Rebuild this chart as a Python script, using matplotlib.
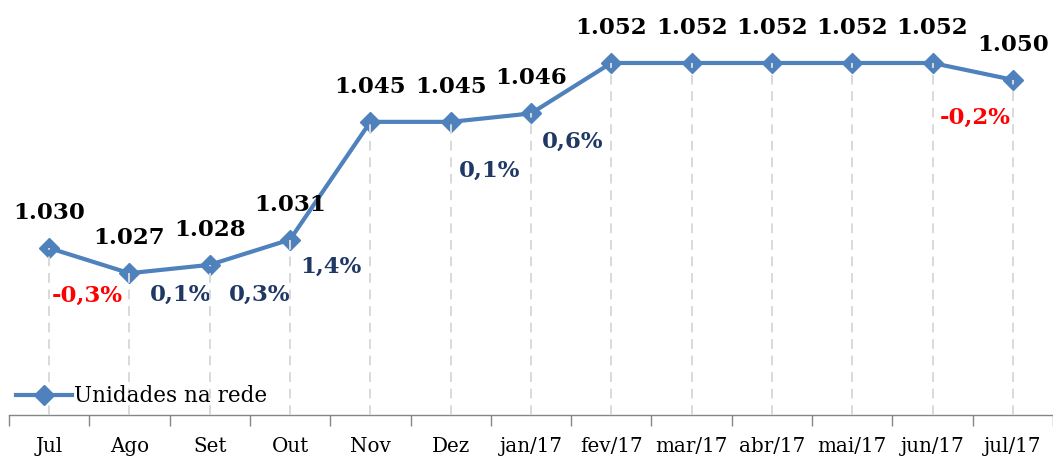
import numpy as np
import matplotlib
matplotlib.use("Agg")
import matplotlib.pyplot as plt

# dados
meses = ["Jul", "Ago", "Set", "Out", "Nov", "Dez", "jan/17", "fev/17",
         "mar/17", "abr/17", "mai/17", "jun/17", "jul/17"]
unidades = [1030, 1027, 1028, 1031, 1045, 1045, 1046, 1052, 1052, 1052, 1052, 1052, 1050]
variacao = ["", "-0,3%", "0,1%", "0,3%", "1,4%", "", "0,1%", "0,6%", "", "", "", "", "-0,2%"]

# deslocamento (pixels) dos rótulos de variação em relação ao ponto
desloc_var = {1: (-42, -23), 2: (-29, -30), 3: (-30, -55), 4: (-39, -145),
              6: (-41, -57), 7: (-39, -79), 12: (-38, -38)}

azul = "#4F81BD"
plt.rcParams["font.family"] = ["DejaVu Serif"]

fig = plt.figure(figsize=(10.53, 4.62), dpi=100)
ax = fig.add_axes([0.0085, 0.1017, 0.9915, 0.8983])

x = np.arange(len(meses))
ax.set_xlim(-0.5, len(meses) - 0.5)
ax.set_ylim(1010.14, 1059.49)

# linhas de queda tracejadas
ax.vlines(x, 1010.14, unidades, colors="#D9D9D9", linestyles=(0, (5, 3.5)),
          linewidth=1.4, zorder=4)

ax.plot(x, unidades, color=azul, linewidth=3, marker="D", markersize=10,
        label="Unidades na rede", zorder=3)

for i, v in enumerate(unidades):
    txt = f"{v:,}".replace(",", ".")
    ax.annotate(txt, (i, v), xytext=(0, 35), textcoords="offset pixels",
                ha="center", va="center", fontsize=16.5, fontweight="bold",
                color="black")

for i, lab in enumerate(variacao):
    if not lab:
        continue
    cor = "#FF0000" if lab.startswith("-") else "#1F3864"
    ax.annotate(lab, (i, unidades[i]), xytext=desloc_var[i], textcoords="offset pixels",
                ha="center", va="center", fontsize=16.5, fontweight="bold", color=cor)

for s in ["top", "right", "left"]:
    ax.spines[s].set_visible(False)
ax.spines["bottom"].set_color("#868686")
ax.spines["bottom"].set_linewidth(1)
ax.set_yticks([])

ax.set_xticks(x)
ax.set_xticklabels(meses, fontsize=14.3)
ax.set_xticks(np.arange(-0.5, len(meses), 1), minor=True)
ax.tick_params(axis="x", which="major", length=0, pad=16)
ax.tick_params(axis="x", which="minor", length=8, width=1, color="#868686")

ax.legend(loc="lower left", bbox_to_anchor=(-0.006, -0.012), frameon=False,
          fontsize=15.5, handlelength=2.6, handletextpad=0.1, borderaxespad=0.2)

fig.savefig("out.png", dpi=100)
